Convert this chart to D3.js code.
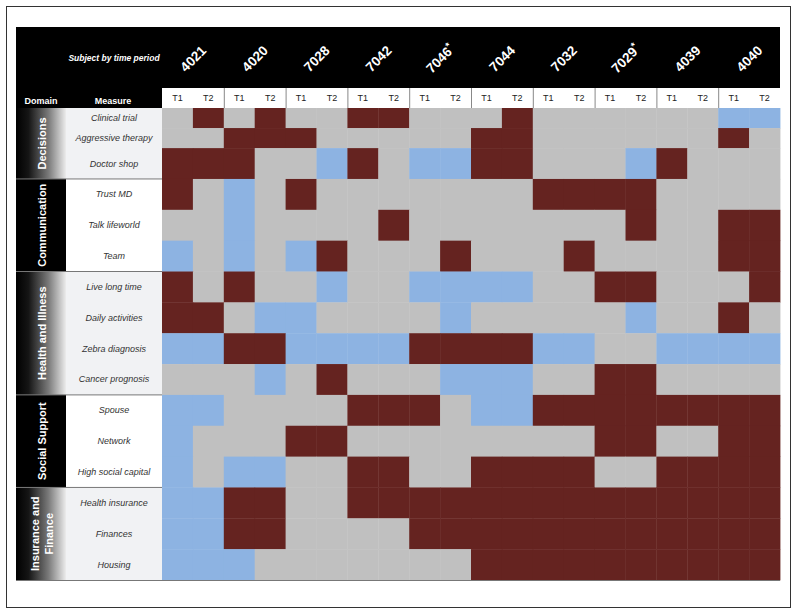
<!DOCTYPE html>
<html>
<head>
<meta charset="utf-8">
<script src="https://cdn.jsdelivr.net/npm/d3@7"></script>
<style>
  body { margin: 0; background: #fff; }
  svg { display: block; font-family: "Liberation Sans", Arial, Helvetica, sans-serif; }
</style>
</head>
<body>
<svg id="chart" width="800" height="614"></svg>
<script>
// Subjects and time periods (columns)
const subjects = ['4021', '4020', '7028', '7042', '7046*', '7044', '7032', '7029*', '4039', '4040'];
const periods = ['T1', 'T2'];

// Domains and their measures (rows)
const domainNames = ['Decisions', 'Communication', 'Health and Illness', 'Social Support', 'Insurance and Finance'];
const decisions = ['Clinical trial', 'Aggressive therapy', 'Doctor shop'];
const communication = ['Trust MD', 'Talk lifeworld', 'Team'];
const healthIllness = ['Live long time', 'Daily activities', 'Zebra diagnosis', 'Cancer prognosis'];
const socialSupport = ['Spouse', 'Network', 'High social capital'];
const insuranceFinance = ['Health insurance', 'Finances', 'Housing'];

// one string per measure, one letter per subject/period: g = grey, r = red, b = blue
const ratings = [
    'grgrggrrgggrggggggbb',
    'ggrrrgggggrrggggggrg',
    'rrrggbrgbbrrgggbrggg',
    'rgbgrgggggggrrrrgggg',
    'ggbggggrgggggggrggrr',
    'bgbgbrgggrgggrggggrr',
    'rgrggbggbbbbggrrgggr',
    'rrgbbggggbgggggbggrg',
    'bbrrbbbbrrrrbbggbbbb',
    'gggbgrgggbbbggrrgggg',
    'bbggggrrrgbbrrrrrrrr',
    'bgggrrggggggggrrggrr',
    'bgbbggrrggrrrrggrrrr',
    'bbrrggrrrrrrrrrrrrrr',
    'bbrrggggrrrrrrrrrrrr',
    'bbbgggggggrrrrrrrrrr',
];

const colors = { g: '#c0c0c0', r: '#652320', b: '#8db3e2' };

// layout
const grid = { left: 162, right: 780, top: 108, bottom: 580 };
const frame = { left: 16, right: 780, top: 27, header: 88 };
const domainRight = 66;
const shortRows = ['Clinical trial', 'Aggressive therapy'];

const domainMeasures = [decisions, communication, healthIllness, socialSupport, insuranceFinance];
const measures = domainMeasures.flat();
const darkDomains = ['Communication', 'Social Support'];

const svg = d3.select('#chart');

// outer frame
svg.append('rect')
    .attr('x', 6.5).attr('y', 6.5)
    .attr('width', 784).attr('height', 601)
    .attr('fill', '#fff')
    .attr('stroke', '#333')
    .attr('stroke-width', 1);

// column scale
const colKeys = subjects.flatMap((s) => periods.map((p) => `${s}|${p}`));
const x = d3.scaleBand().domain(colKeys).range([grid.left, grid.right]);
const pairX = d3.scaleBand().domain(subjects).range([grid.left, grid.right]);

// row scale: cumulative units, first two rows are shorter
const units = measures.map((m) => (shortRows.includes(m) ? 0.65 : 1));
const starts = [0];
units.forEach((u, i) => starts.push(starts[i] + u));
const yUnit = d3.scaleLinear().domain([0, starts[starts.length - 1]]).range([grid.top, grid.bottom]);
const rowY = (i) => yUnit(starts[i]);
const rowH = (i) => yUnit(starts[i + 1]) - yUnit(starts[i]);

// gradient for the light domains
const defs = svg.append('defs');
const grad = defs.append('linearGradient').attr('id', 'domainGrad')
    .attr('x1', '0%').attr('x2', '100%').attr('y1', '0%').attr('y2', '0%');
grad.append('stop').attr('offset', '0%').attr('stop-color', '#000');
grad.append('stop').attr('offset', '25%').attr('stop-color', '#151515');
grad.append('stop').attr('offset', '65%').attr('stop-color', '#7a7a7a');
grad.append('stop').attr('offset', '100%').attr('stop-color', '#ececec');

// black header band
svg.append('rect')
    .attr('x', frame.left).attr('y', frame.top)
    .attr('width', frame.right - frame.left).attr('height', frame.header - frame.top)
    .attr('fill', '#000');

svg.append('text')
    .attr('x', 114).attr('y', (frame.top + frame.header) / 2)
    .attr('text-anchor', 'middle').attr('dominant-baseline', 'central')
    .attr('fill', '#fff').attr('font-size', 8.5)
    .attr('font-weight', 'bold').attr('font-style', 'italic')
    .text('Subject by time period');

// subject labels, rotated
const subjLabels = svg.append('g').selectAll('text')
    .data(subjects)
    .join('text')
    .attr('transform', (d) => `translate(${pairX(d) + pairX.bandwidth() / 2},${(frame.top + frame.header) / 2 + 1}) rotate(-45)`)
    .attr('text-anchor', 'middle').attr('dominant-baseline', 'central')
    .attr('fill', '#fff').attr('font-size', 13.5).attr('font-weight', 'bold');
subjLabels.append('tspan').text((d) => d.replace('*', ''));
subjLabels.filter((d) => d.includes('*'))
    .append('tspan')
    .attr('font-size', 10).attr('dy', -4)
    .text('*');

// Domain / Measure header cells
svg.append('rect')
    .attr('x', frame.left).attr('y', frame.header)
    .attr('width', grid.left - frame.left).attr('height', grid.top - frame.header)
    .attr('fill', '#000');
svg.append('text')
    .attr('x', 41).attr('y', 101)
    .attr('text-anchor', 'middle').attr('dominant-baseline', 'central')
    .attr('fill', '#fff').attr('font-size', 9).attr('font-weight', 'bold')
    .text('Domain');
svg.append('text')
    .attr('x', 113).attr('y', 101)
    .attr('text-anchor', 'middle').attr('dominant-baseline', 'central')
    .attr('fill', '#fff').attr('font-size', 9).attr('font-weight', 'bold')
    .text('Measure');

// T1 / T2 row
svg.append('rect')
    .attr('x', grid.left).attr('y', frame.header)
    .attr('width', grid.right - grid.left).attr('height', grid.top - frame.header)
    .attr('fill', '#fff');
svg.append('g').selectAll('text')
    .data(colKeys)
    .join('text')
    .attr('x', (d) => x(d) + x.bandwidth() / 2)
    .attr('y', 98)
    .attr('text-anchor', 'middle').attr('dominant-baseline', 'central')
    .attr('fill', '#222').attr('font-size', 9)
    .text((d) => d.split('|')[1]);
svg.append('g').selectAll('line')
    .data(subjects.slice(1))
    .join('line')
    .attr('x1', (d) => pairX(d) + 0.5).attr('x2', (d) => pairX(d) + 0.5)
    .attr('y1', frame.header).attr('y2', grid.top)
    .attr('stroke', '#888').attr('stroke-width', 1);

// heat map cells
const cells = measures.flatMap((m, i) => colKeys.map((k, j) => ({ row: i, key: k, v: ratings[i][j] })));
svg.append('g').selectAll('rect')
    .data(cells)
    .join('rect')
    .attr('x', (d) => x(d.key))
    .attr('y', (d) => rowY(d.row))
    .attr('width', x.bandwidth() + 0.4)
    .attr('height', (d) => rowH(d.row) + 0.4)
    .attr('fill', (d) => colors[d.v]);

// domain blocks and measure labels
let rowIndex = 0;
const left = svg.append('g');
domainNames.forEach((name, di) => {
    const list = domainMeasures[di];
    const y0 = rowY(rowIndex);
    const y1 = rowY(rowIndex + list.length);
    const dark = darkDomains.includes(name);

    left.append('rect')
        .attr('x', domainRight).attr('y', y0)
        .attr('width', grid.left - domainRight).attr('height', y1 - y0)
        .attr('fill', dark ? '#fff' : '#f1f2f4');
    left.append('rect')
        .attr('x', frame.left).attr('y', y0)
        .attr('width', domainRight - frame.left).attr('height', y1 - y0)
        .attr('fill', dark ? '#000' : 'url(#domainGrad)');

    const words = name === 'Insurance and Finance' ? ['Insurance and', 'Finance'] : [name];
    const cx = (frame.left + domainRight) / 2 + 1;
    const cy = (y0 + y1) / 2;
    const label = left.append('text')
        .attr('transform', `translate(${cx},${cy}) rotate(-90)`)
        .attr('text-anchor', 'middle')
        .attr('fill', '#fff').attr('font-size', 11).attr('font-weight', 'bold');
    words.forEach((w, wi) => {
        label.append('tspan')
            .attr('x', 0)
            .attr('y', words.length === 1 ? 4 : (wi === 0 ? -3 : 11))
            .text(w);
    });

    list.forEach((m, mi) => {
        const r = rowIndex + mi;
        left.append('text')
            .attr('x', 114)
            .attr('y', rowY(r) + rowH(r) / 2)
            .attr('text-anchor', 'middle').attr('dominant-baseline', 'central')
            .attr('fill', '#333').attr('font-size', 9).attr('font-style', 'italic')
            .text(m);
    });

    if (di > 0) {
        left.append('line')
            .attr('x1', frame.left).attr('x2', grid.left)
            .attr('y1', y0).attr('y2', y0)
            .attr('stroke', '#777').attr('stroke-width', 1);
    }
    rowIndex += list.length;
});
left.append('line')
    .attr('x1', frame.left).attr('x2', grid.right)
    .attr('y1', grid.bottom + 0.5).attr('y2', grid.bottom + 0.5)
    .attr('stroke', '#777').attr('stroke-width', 1);
</script>
</body>
</html>
